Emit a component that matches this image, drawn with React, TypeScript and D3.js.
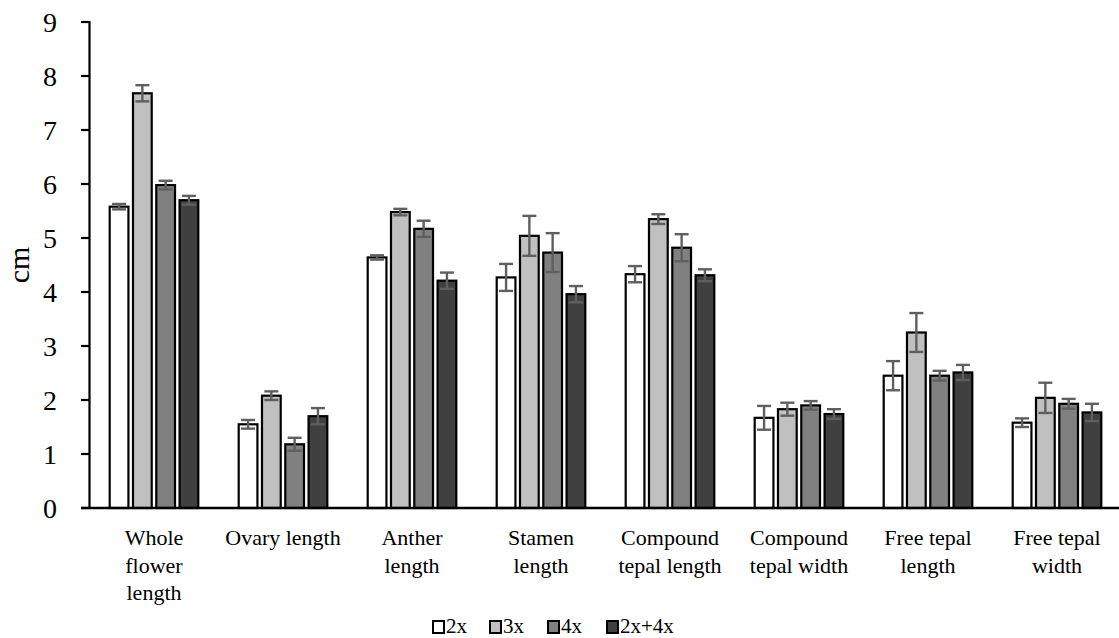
import React from "react";
import * as d3 from "d3";

const categories = [
  "Whole flower length",
  "Ovary length",
  "Anther length",
  "Stamen length",
  "Compound tepal length",
  "Compound tepal width",
  "Free tepal length",
  "Free tepal width",
];
const categoryLines = [
  ["Whole", "flower", "length"],
  ["Ovary length"],
  ["Anther", "length"],
  ["Stamen", "length"],
  ["Compound", "tepal length"],
  ["Compound", "tepal width"],
  ["Free tepal", "length"],
  ["Free tepal", "width"],
];
const seriesNames = ["2x", "3x", "4x", "2x+4x"];
const seriesColors = ["#ffffff", "#c0c0c0", "#808080", "#404040"];

const values2x = [5.58, 1.55, 4.64, 4.27, 4.33, 1.67, 2.45, 1.58];
const values3x = [7.68, 2.08, 5.48, 5.04, 5.35, 1.83, 3.25, 2.04];
const values4x = [5.98, 1.18, 5.17, 4.73, 4.82, 1.9, 2.45, 1.93];
const values2x4x = [5.7, 1.7, 4.21, 3.96, 4.31, 1.74, 2.51, 1.77];

const err2x = [0.05, 0.08, 0.04, 0.25, 0.15, 0.22, 0.27, 0.08];
const err3x = [0.15, 0.08, 0.06, 0.37, 0.09, 0.12, 0.36, 0.28];
const err4x = [0.08, 0.12, 0.15, 0.36, 0.25, 0.08, 0.09, 0.09];
const err2x4x = [0.08, 0.15, 0.15, 0.15, 0.11, 0.09, 0.14, 0.16];

const yTicks = [0, 1, 2, 3, 4, 5, 6, 7, 8, 9];

const seriesValues = [values2x, values3x, values4x, values2x4x];
const seriesErrors = [err2x, err3x, err4x, err2x4x];

const W = 1119;
const H = 638;
const FONT = "'Liberation Serif', 'Times New Roman', serif";

export default function App() {
  const x0 = d3.scaleBand<string>().domain(categories).range([89.5, 1121.5]).padding(0);
  const bw = x0.bandwidth();
  const groupW = 90.6;
  const x1 = d3
    .scaleBand<string>()
    .domain(seriesNames)
    .range([(bw - groupW) / 2, (bw + groupW) / 2])
    .paddingInner(0.11)
    .paddingOuter(0);
  const y = d3.scaleLinear().domain([0, 9]).range([508, 22]);
  const axisX = 89.5;
  const capW = 14;

  return (
    <svg
      width={W}
      height={H}
      style={{ position: "absolute", left: 0, top: 0, background: "#fff" }}
      fontFamily={FONT}
    >
      <rect x={0} y={0} width={W} height={H} fill="#fff" />
      {categories.map((c, ci) => (
        <g key={c} transform={`translate(${x0(c)},0)`}>
          {seriesNames.map((s, si) => {
            const v = seriesValues[si][ci];
            const bx = (x1(s) as number) + 1;
            const w = x1.bandwidth() - 2;
            return (
              <rect
                key={s}
                x={bx}
                y={y(v)}
                width={w}
                height={y(0) - y(v)}
                fill={seriesColors[si]}
                stroke="#000"
                strokeWidth={2.2}
              />
            );
          })}
          {seriesNames.map((s, si) => {
            const v = seriesValues[si][ci];
            const e = seriesErrors[si][ci];
            const cx = (x1(s) as number) + x1.bandwidth() / 2;
            return (
              <g key={s} stroke="#5f5f5f" strokeWidth={2.4}>
                <line x1={cx} x2={cx} y1={y(v + e)} y2={y(v - e)} />
                <line x1={cx - capW / 2} x2={cx + capW / 2} y1={y(v + e)} y2={y(v + e)} />
                <line x1={cx - capW / 2} x2={cx + capW / 2} y1={y(v - e)} y2={y(v - e)} />
              </g>
            );
          })}
        </g>
      ))}
      <line x1={axisX} x2={axisX} y1={y(9) - 1} y2={y(0)} stroke="#000" strokeWidth={2.2} />
      {yTicks.map((t) => (
        <g key={t}>
          <line x1={81} x2={axisX} y1={y(t)} y2={y(t)} stroke="#000" strokeWidth={2.2} />
          <text x={57} y={y(t)} dy="0.35em" textAnchor="end" fontSize={28} fill="#000">
            {t}
          </text>
        </g>
      ))}
      <line x1={81} x2={W} y1={y(0)} y2={y(0)} stroke="#000" strokeWidth={2.4} />
      {categories.map((c, ci) => (
        <text
          key={c}
          x={(x0(c) as number) + bw / 2}
          y={545}
          textAnchor="middle"
          fontSize={22}
          fill="#000"
        >
          {categoryLines[ci].map((ln, li) => (
            <tspan key={li} x={(x0(c) as number) + bw / 2} y={545 + li * 27.5}>
              {ln}
            </tspan>
          ))}
        </text>
      ))}
      <text
        transform={`translate(29,${(y(0) + y(9)) / 2}) rotate(-90)`}
        textAnchor="middle"
        fontSize={30}
        fill="#000"
      >
        cm
      </text>
      {seriesNames.map((s, si) => {
        const lx = [433, 490, 548, 607][si];
        return (
          <g key={s}>
            <rect
              x={lx}
              y={621}
              width={11}
              height={12}
              fill={seriesColors[si]}
              stroke="#000"
              strokeWidth={2}
            />
            <text x={lx + 13} y={633} fontSize={21} fill="#000">
              {s}
            </text>
          </g>
        );
      })}
    </svg>
  );
}
